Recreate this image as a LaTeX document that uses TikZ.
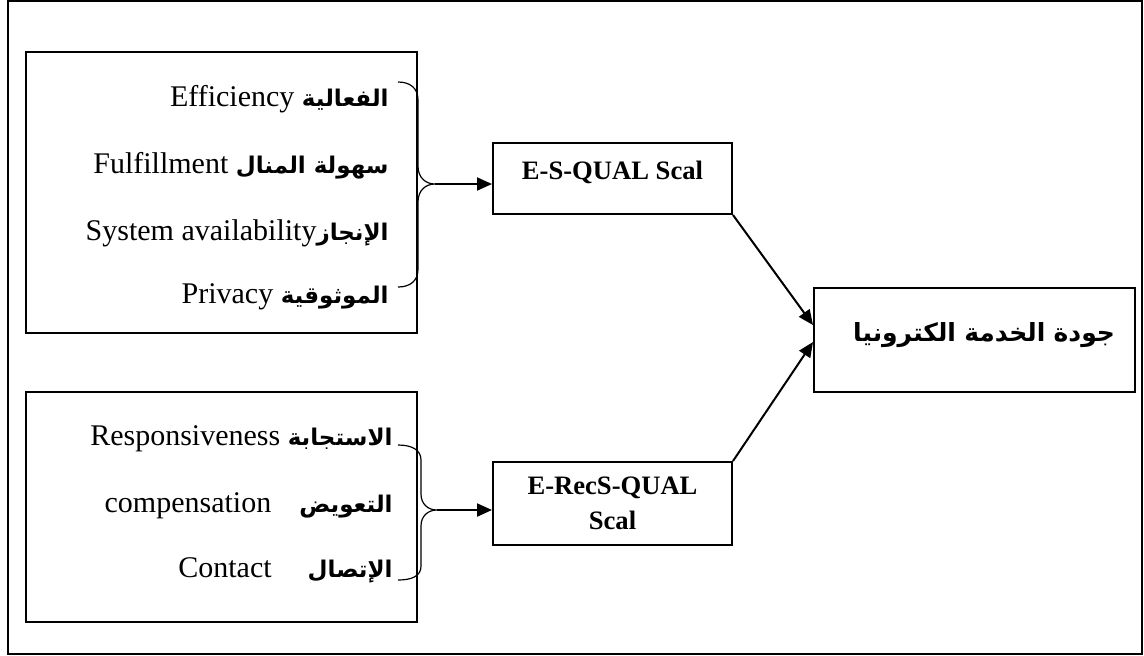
\documentclass[tikz,border=0pt]{standalone}
\usepackage{fontspec}
\setmainfont{Liberation Serif}
\newfontfamily\arabicfont[Script=Arabic]{DejaVu Sans}
\TeXXeTstate=1
\usetikzlibrary{arrows.meta}
\newcommand{\artxt}[1]{{\arabicfont\bfseries\fontsize{11.5}{14}\selectfont\beginR #1\endR}}
\tikzset{
  box/.style={draw,line width=1pt,inner sep=0pt},
  conn/.style={line width=1pt,-{Triangle[length=7.5pt,width=6.5pt]}},
  bracket/.style={line width=0.6pt},
  item/.style={anchor=base east,inner sep=0pt,font=\fontsize{15}{18}\selectfont},
  scalebox/.style={box,minimum width=119.5pt,font=\bfseries\fontsize{13.3}{17.5}\selectfont,align=center}
}
\begin{document}
\begin{tikzpicture}[x=0.5pt,y=-0.5pt]
\useasboundingbox (0,0) rectangle (1144,655);
% frame
\draw[line width=1pt] (8,1) rectangle (1142,654);
% E-S-QUAL group
\node[box,minimum width=195.5pt,minimum height=140.5pt] (g1) at (221.5,192.5) {};
\node[item] (eff) at (389,106) {Efficiency \artxt{الفعالية}};
\node[item] (ful) at (389,173) {Fulfillment \artxt{سهولة المنال}};
\node[item] (sys) at (389,240) {System availability\artxt{الإنجاز}};
\node[item] (pri) at (389,303) {Privacy \artxt{الموثوقية}};
\draw[bracket] (398,82) .. controls (410,82) and (418,88) .. (418,100) -- (418,166)
  .. controls (418,178) and (426,184) .. (435,184)
  .. controls (426,184) and (418,190) .. (418,202) -- (418,269)
  .. controls (418,281) and (410,287) .. (398,287);
\coordinate (b1) at (435,184);
% E-RecS-QUAL group
\node[box,minimum width=195.5pt,minimum height=115pt] (g2) at (221.5,507) {};
\node[item] (res) at (393,445) {Responsiveness \artxt{الاستجابة}};
\node[item] (com) at (393,512) {compensation\hspace{14pt}\artxt{التعويض}};
\node[item] (con) at (393,577) {Contact\hspace{18pt}\artxt{الإتصال}};
\draw[bracket] (398,445) .. controls (412,445) and (421,450) .. (421,460) -- (421,494)
  .. controls (421,504) and (428,510) .. (437,510)
  .. controls (428,510) and (421,516) .. (421,526) -- (421,566)
  .. controls (421,576) and (412,580) .. (398,580);
\coordinate (b2) at (437,510);
% scales
\node[scalebox,minimum height=35.5pt] (esq) at (612.5,178.5) {\raisebox{8pt}{E-S-QUAL Scal}};
\node[scalebox,minimum height=41.5pt] (erq) at (612.5,503.5) {E-RecS-QUAL\\Scal};
% result
\node[box,minimum height=52pt,text width=140.5pt,inner xsep=10pt,align=right,
  font=\bfseries\fontsize{12.5}{15}\selectfont] (eq) at (974.5,340)
  {\raisebox{8pt}{\arabicfont\beginR جودة الخدمة الكترونيا\endR}};
% arrows
\draw[conn] (b1) -- (b1 -| esq.west);
\draw[conn] (b2) -- (b2 -| erq.west);
\draw[conn] (esq.south east) -- ([yshift=7.5pt]eq.west);
\draw[conn] (erq.north east) -- ([yshift=-1pt]eq.west);
\end{tikzpicture}
\end{document}
